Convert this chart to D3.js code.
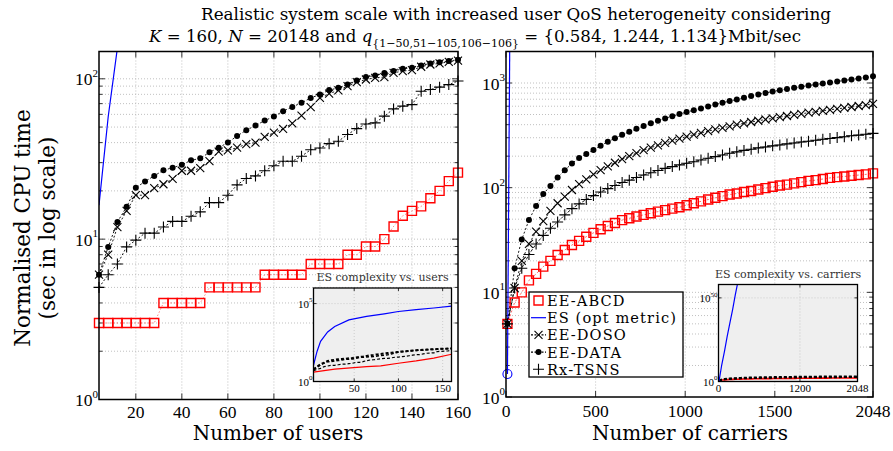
<!DOCTYPE html>
<html>
<head>
<meta charset="utf-8">
<script src="https://cdn.jsdelivr.net/npm/d3@7"></script>
<style>
  body { margin: 0; background: #fff; }
  svg { display: block; }
</style>
</head>
<body>
<div id="chart"></div>
<script>
// ---- data: left panel (number of users) ----
const users = [4, 8, 12, 16, 20, 24, 28, 32, 36, 40, 44, 48, 52, 56, 60, 64, 68, 72, 76, 80,
  84, 88, 92, 96, 100, 104, 108, 112, 116, 120, 124, 128, 132, 136, 140, 144, 148, 152, 156, 160];
const abcdUsers = [3, 3, 3, 3, 3, 3, 3, 4, 4, 4, 4, 4, 5, 5, 5, 5, 5, 5, 6, 6,
  6, 6, 6, 7, 7, 7, 7, 8, 8, 9, 9, 10, 12, 14, 15, 16, 18, 20, 23, 26];
const dosoUsers = [6.0, 8.0, 11.9, 15.0, 18.8, 18.8, 20.8, 22.0, 23.8, 26.7, 26.7, 27.7, 30.7, 35.1, 35.8, 37.2, 39.1, 40.0, 43.5, 46.1,
  48.7, 52.8, 59.0, 66.5, 76.0, 80.9, 84.6, 90.0, 95.4, 99.0, 101.5, 102.5, 109, 111.7, 113.3, 118.9, 122.8, 124.7, 127.7, 130];
const dataUsers = [6.0, 8.95, 12.8, 15.9, 20.9, 22.9, 24.8, 26.9, 27.9, 29.1, 31.0, 31.9, 34.8, 37.2, 40.0, 44.0, 47.8, 51.1, 54.9, 58.1,
  62.8, 66.8, 70.8, 76.0, 79.8, 85.0, 87.9, 92.0, 97.5, 102.5, 105, 108.6, 111.7, 115.5, 117, 121, 124.7, 127, 129, 131.5];
const tsnsUsers = [5.0, 6.0, 7.0, 8.95, 9.86, 10.9, 10.9, 11.9, 12.9, 12.9, 13.9, 14.8, 16.9, 16.9, 18.8, 21.8, 23.9, 24.8, 26.7, 28.7,
  30.6, 30.6, 32.9, 36.1, 37.0, 39.4, 40.8, 44.9, 48.9, 52.3, 53.1, 58.5, 64.9, 67.5, 69.0, 83.7, 85.8, 88.7, 92.0, 96.8];
const esUsers = [4, 8, 12, 16];
const esUsersVal = [16.3, 58, 156, 420];

// inset: ES complexity vs. users
const esCplxUsers = [4, 8, 12, 20, 28, 44, 64, 84, 100, 120, 140, 160];
const esCplxUsersVal = [11, 85, 380, 1500, 3400, 9000, 15000, 22000, 31000, 41000, 52000, 68000];
const abcdCplxUsers = [4, 28, 64, 80, 100, 120, 140, 160];
const abcdCplxUsersVal = [4, 6.2, 9, 10, 14.8, 21, 32, 56];

// ---- data: right panel (number of carriers) ----
const carriers = [8, 48, 88, 128, 168, 208, 248, 288, 328, 368, 408, 448, 488, 528, 568, 608, 648, 688, 728, 768,
  808, 848, 888, 928, 968, 1008, 1048, 1088, 1128, 1168, 1208, 1248, 1288, 1328, 1368, 1408, 1448, 1488, 1528, 1568,
  1608, 1648, 1688, 1728, 1768, 1808, 1848, 1888, 1928, 1968, 2008, 2048];
const abcdCarriers = [5, 8, 10, 13, 15, 17.6, 20, 22.7, 25.4, 28.3, 31, 34, 37, 40, 43, 46, 49, 51, 53, 55,
  57, 59, 61, 63, 65, 68, 71, 74, 77, 80, 83, 86, 88, 91, 93, 96, 99, 102, 105, 107,
  110, 113, 116, 118, 121, 124, 126, 128, 130, 132, 134, 137];
const dosoCarriers = [5, 11, 20, 29, 38, 48, 60, 71, 82, 95, 108, 120, 134, 147, 160, 173, 187, 200, 214, 228,
  241, 254, 268, 281, 294, 308, 321, 334, 347, 360, 373, 386, 400, 412, 424, 436, 448, 460, 472, 484,
  496, 508, 520, 531, 543, 555, 566, 578, 590, 603, 616, 632];
const dataCarriers = [5, 17, 32, 49, 67, 87, 104, 125, 147, 170, 192, 210, 229, 252, 275, 297, 320, 342, 365, 388,
  412, 436, 459, 482, 505, 527, 550, 572, 597, 622, 647, 672, 697, 722, 750, 778, 803, 828, 853, 877,
  900, 922, 945, 968, 990, 1012, 1035, 1058, 1082, 1105, 1130, 1160];
const tsnsCarriers = [5, 11, 17, 23, 29, 35, 41, 47, 55, 63, 70, 77, 84, 91, 98, 105, 112, 118, 125, 132,
  139, 146, 153, 159, 165, 171, 177, 184, 191, 198, 205, 213, 220, 227, 233, 240, 245, 251, 256, 262,
  267, 273, 278, 284, 290, 295, 301, 307, 313, 318, 324, 330];
const esCarriers = [8, 48];
const esCarriersVal = [1.66, 1e10];

// inset: ES complexity vs. carriers
const esCplxCarriers = [8, 48, 88, 128, 168, 208, 248, 288, 328];
const esCplxCarriersVal = [1.66, 1e10, 1e18, 1e27, 1e35, 1e43, 1e52, 1e60, 1e69];

const usersTicks = [20, 40, 60, 80, 100, 120, 140, 160];
const carriersTicks = [0, 500, 1000, 1500, 2048];
const legendNames = ["EE-ABCD", "ES (opt metric)", "EE-DOSO", "EE-DATA", "Rx-TSNS"];

const numFont = "Liberation Serif";
const txtFont = "DejaVu Serif";

const svg = d3.select("#chart").append("svg").attr("width", 893).attr("height", 451);

// scales
const xL = d3.scaleLinear().domain([4, 160]).range([99, 458]);
const yL = d3.scaleLog().domain([1, 148]).range([399.5, 51.5]);
const xR = d3.scaleLinear().domain([0, 2048]).range([506, 873]);
const yR = d3.scaleLog().domain([1, 2000]).range([397, 51.5]);

const isMajor = (v) => Math.abs(Math.log10(v) - Math.round(Math.log10(v))) < 1e-9;

function sup10(g, x, y, exp, size, supSize, font) {
  const t = g.append("text").attr("x", x).attr("y", y)
    .attr("text-anchor", "end").attr("font-family", font || numFont).attr("font-size", size);
  t.append("tspan").text("10");
  t.append("tspan").attr("dy", -size * 0.48).attr("font-size", supSize).text(exp);
}

//grid, ticks and frame of a panel
function drawFrame(g, x, y, xTicks, yTicks, opt) {
  const [x0, x1] = x.range();
  const [y1, y0] = y.range();
  g.append("g").selectAll("line").data(yTicks.filter((v) => y(v) > y0 + 1 && y(v) < y1 - 1)).join("line")
    .attr("x1", x0).attr("x2", x1).attr("y1", (d) => y(d)).attr("y2", (d) => y(d))
    .attr("stroke", opt.grid).attr("stroke-width", 0.8).attr("stroke-dasharray", "1,2");
  g.append("g").selectAll("line").data(xTicks.filter((v) => x(v) > x0 + 1 && x(v) < x1 - 1)).join("line")
    .attr("x1", (d) => x(d)).attr("x2", (d) => x(d)).attr("y1", y0).attr("y2", y1)
    .attr("stroke", opt.grid).attr("stroke-width", 0.8).attr("stroke-dasharray", "1,2");
  // inside tick marks
  const tk = g.append("g").attr("stroke", "#000").attr("stroke-width", 0.8);
  yTicks.forEach((v) => {
    const len = isMajor(v) ? opt.major : opt.minor;
    tk.append("line").attr("x1", x0).attr("x2", x0 + len).attr("y1", y(v)).attr("y2", y(v));
    tk.append("line").attr("x1", x1).attr("x2", x1 - len).attr("y1", y(v)).attr("y2", y(v));
  });
  xTicks.forEach((v) => {
    tk.append("line").attr("x1", x(v)).attr("x2", x(v)).attr("y1", y1).attr("y2", y1 - opt.major);
    tk.append("line").attr("x1", x(v)).attr("x2", x(v)).attr("y1", y0).attr("y2", y0 + opt.major);
  });
}

function box(g, x, y, w) {
  const [x0, x1] = x.range();
  const [y1, y0] = y.range();
  g.append("rect").attr("x", x0).attr("y", y0).attr("width", x1 - x0).attr("height", y1 - y0)
    .attr("fill", "none").attr("stroke", "#000").attr("stroke-width", w);
}

//markers
function markers(g, xs, ys, x, y, type, color) {
  const pts = xs.map((d, i) => [x(d), y(ys[i])]);
  if (type === "dot") {
    g.append("g").selectAll("circle").data(pts).join("circle")
      .attr("cx", (d) => d[0]).attr("cy", (d) => d[1]).attr("r", 3).attr("fill", color);
    return;
  }
  const shape = {
    square: (p) => `M${p[0] - 4.5},${p[1] - 4.5}h9v9h-9z`,
    x: (p) => `M${p[0] - 4},${p[1] - 4}L${p[0] + 4},${p[1] + 4}M${p[0] - 4},${p[1] + 4}L${p[0] + 4},${p[1] - 4}`,
    plus: (p) => `M${p[0] - 5.5},${p[1]}H${p[0] + 5.5}M${p[0]},${p[1] - 5.5}V${p[1] + 5.5}`,
    circle: (p) => `M${p[0] + 4.5},${p[1]}A4.5,4.5 0 1,1 ${p[0] - 4.5},${p[1]}A4.5,4.5 0 1,1 ${p[0] + 4.5},${p[1]}`,
  }[type];
  g.append("g").selectAll("path").data(pts).join("path")
    .attr("d", shape).attr("fill", "none").attr("stroke", color)
    .attr("stroke-width", type === "square" ? 1.4 : 1.1);
}

function series(g, xs, ys, x, y, style) {
  const line = d3.line().x((d) => x(d[0])).y((d) => y(d[1]));
  g.append("path").datum(xs.map((d, i) => [d, ys[i]]))
    .attr("d", line).attr("fill", "none")
    .attr("stroke", style.color).attr("stroke-width", style.width || 1)
    .attr("stroke-dasharray", style.dash || null)
    .attr("stroke-opacity", style.opacity || 1)
    .attr("clip-path", style.clip || null);
}

const defs = svg.append("defs");
function clip(id, x, y) {
  const [x0, x1] = x.range();
  const [y1, y0] = y.range();
  defs.append("clipPath").attr("id", id).append("rect")
    .attr("x", x0).attr("y", y0).attr("width", x1 - x0).attr("height", y1 - y0);
  return `url(#${id})`;
}

// ================= left panel =================
const gl = svg.append("g");
drawFrame(gl, xL, yL, usersTicks, yL.ticks(), { grid: "#b0b0b0", major: 6, minor: 3.5 });
const clipL = clip("clipL", xL, yL);
series(gl, users, abcdUsers, xL, yL, { color: "#f00", dash: "1.5,2", opacity: 0.5 });
series(gl, users, tsnsUsers, xL, yL, { color: "#000", dash: "2,2", width: 0.9 });
series(gl, users, dosoUsers, xL, yL, { color: "#000", dash: "2,2", width: 0.9 });
series(gl, users, dataUsers, xL, yL, { color: "#000", dash: "2,2", width: 0.9 });
series(gl, esUsers, esUsersVal, xL, yL, { color: "#00f", width: 1.2, clip: clipL });
markers(gl, users, abcdUsers, xL, yL, "square", "#f00");
markers(gl, users, tsnsUsers, xL, yL, "plus", "#000");
markers(gl, users, dosoUsers, xL, yL, "x", "#000");
markers(gl, users, dataUsers, xL, yL, "dot", "#000");
box(gl, xL, yL, 1.5);

usersTicks.forEach((v) => {
  gl.append("text").attr("x", xL(v)).attr("y", 418).attr("text-anchor", "middle")
    .attr("font-family", numFont).attr("font-size", 17.5).text(v);
});
[1, 10, 100].forEach((v) => sup10(gl, 98, yL(v) + 6.5, Math.log10(v), 17.5, 11));

// ================= right panel =================
const gr = svg.append("g");
drawFrame(gr, xR, yR, carriersTicks, yR.ticks(), { grid: "#b0b0b0", major: 6, minor: 3.5 });
const clipR = clip("clipR", xR, yR);
series(gr, carriers, abcdCarriers, xR, yR, { color: "#f00", dash: "2,2", opacity: 0.6 });
series(gr, carriers, tsnsCarriers, xR, yR, { color: "#000", dash: "3,1.5", width: 0.9 });
series(gr, carriers, dosoCarriers, xR, yR, { color: "#000", dash: "2,2", width: 0.9 });
series(gr, carriers, dataCarriers, xR, yR, { color: "#000", dash: "2,2", width: 0.9 });
series(gr, esCarriers, esCarriersVal, xR, yR, { color: "#00f", width: 1.2, clip: clipR });
markers(gr, carriers, abcdCarriers, xR, yR, "square", "#f00");
markers(gr, carriers, tsnsCarriers, xR, yR, "plus", "#000");
markers(gr, carriers, dosoCarriers, xR, yR, "x", "#000");
markers(gr, carriers, dataCarriers, xR, yR, "dot", "#000");
markers(gr, esCarriers.slice(0, 1), esCarriersVal, xR, yR, "circle", "#00f");
box(gr, xR, yR, 1.5);

carriersTicks.forEach((v) => {
  gr.append("text").attr("x", xR(v)).attr("y", 417).attr("text-anchor", "middle")
    .attr("font-family", numFont).attr("font-size", 17.5).text(v);
});
[1, 10, 100, 1000].forEach((v) => sup10(gr, 505, yR(v) + 6.5, Math.log10(v), 17.5, 11));

// ================= insets =================
function inset(cfg) {
  const g = svg.append("g");
  const [x0, x1] = cfg.x.range();
  const [y1, y0] = cfg.y.range();
  g.append("rect").attr("x", x0).attr("y", y0).attr("width", x1 - x0).attr("height", y1 - y0).attr("fill", "#efefef");
  drawFrame(g, cfg.x, cfg.y, cfg.xTicks, cfg.yTicks, { grid: "#c4c4c4", major: 3, minor: 3 });
  const cp = clip(cfg.id, cfg.x, cfg.y);
  cfg.lines.forEach((l) => series(g, l.xs, l.ys, cfg.x, cfg.y, Object.assign({ clip: cp }, l.style)));
  box(g, cfg.x, cfg.y, 1.3);
  cfg.xTicks.forEach((v) => {
    g.append("text").attr("x", cfg.x(v)).attr("y", y1 + 10.5).attr("text-anchor", "middle")
      .attr("font-family", numFont).attr("font-size", 11).text(v);
  });
  cfg.yTicks.forEach((v) => sup10(g, x0 - 1, cfg.y(v) + 4, Math.round(Math.log10(v)), 11, 7));
  g.append("text").attr("x", (x0 + x1) / 2).attr("y", y0 - 7).attr("text-anchor", "middle")
    .attr("font-family", txtFont).attr("font-size", 11).attr("fill", "#333").text(cfg.title);
}

inset({
  id: "clipIL",
  x: d3.scaleLinear().domain([4, 160]).range([313.5, 451.5]),
  y: d3.scaleLog().domain([1, 1e6]).range([381.5, 288]),
  xTicks: [50, 100, 150],
  yTicks: [1, 1e5],
  title: "ES complexity vs. users",
  lines: [
    { xs: users, ys: tsnsUsers, style: { color: "#000", dash: "3,2", width: 1.2 } },
    { xs: users, ys: dosoUsers, style: { color: "#000", dash: "3,2", width: 1.5 } },
    { xs: users, ys: dataUsers, style: { color: "#000", dash: "3,2", width: 2 } },
    { xs: abcdCplxUsers, ys: abcdCplxUsersVal, style: { color: "#f00", width: 1.2 } },
    { xs: esCplxUsers, ys: esCplxUsersVal, style: { color: "#00f", width: 1.2 } },
  ],
});

inset({
  id: "clipIR",
  x: d3.scaleLinear().domain([0, 2048]).range([718.5, 857.5]),
  y: d3.scaleLog().domain([1, 1e58]).range([381.5, 284.5]),
  xTicks: [0, 1200, 2048],
  yTicks: [1, 1e50],
  title: "ES complexity vs. carriers",
  lines: [
    { xs: carriers, ys: abcdCarriers, style: { color: "#f00", width: 1.6 } },
    { xs: carriers, ys: tsnsCarriers, style: { color: "#000", dash: "3,2", width: 1.5 } },
    { xs: carriers, ys: dosoCarriers, style: { color: "#000", dash: "3,2", width: 1.5 } },
    { xs: carriers, ys: dataCarriers, style: { color: "#000", dash: "3,2", width: 2 } },
    { xs: esCplxCarriers, ys: esCplxCarriersVal, style: { color: "#00f", width: 1.2 } },
  ],
});

// ================= legend =================
const lg = svg.append("g");
lg.append("rect").attr("x", 529).attr("y", 292).attr("width", 154).attr("height", 85)
  .attr("fill", "#fff").attr("stroke", "#000").attr("stroke-width", 1.3);
const legendStyle = [
  { mk: "square", color: "#f00", dash: null, line: false },
  { mk: null, color: "#00f", dash: null, line: true },
  { mk: "x", color: "#000", dash: "2,1.5", line: true },
  { mk: "dot", color: "#000", dash: "2,1.5", line: true },
  { mk: "plus", color: "#000", dash: null, line: false },
];
legendNames.forEach((name, i) => {
  const yy = 300.5 + i * 17.2;
  const st = legendStyle[i];
  if (st.line) {
    lg.append("line").attr("x1", 531).attr("x2", 546).attr("y1", yy).attr("y2", yy)
      .attr("stroke", st.color).attr("stroke-width", 1.2).attr("stroke-dasharray", st.dash);
  }
  if (st.mk) markers(lg, [0], [1], () => 538.5, () => yy, st.mk, st.color);
  lg.append("text").attr("x", 547).attr("y", yy + 5.5).attr("font-family", txtFont)
    .attr("font-size", 14.6).attr("letter-spacing", 1.1).text(name);
});

// ================= titles and axis labels =================
svg.append("text").attr("x", 516).attr("y", 20).attr("text-anchor", "middle")
  .attr("font-family", txtFont).attr("font-size", 16.8)
  .text("Realistic system scale with increased user QoS heterogeneity considering");
const t2 = svg.append("text").attr("x", 475).attr("y", 42).attr("text-anchor", "middle")
  .attr("font-family", txtFont).attr("font-size", 16.6);
t2.append("tspan").attr("font-style", "italic").text("K");
t2.append("tspan").text(" = 160, ");
t2.append("tspan").attr("font-style", "italic").text("N");
t2.append("tspan").text(" = 20148 and ");
t2.append("tspan").attr("font-style", "italic").text("q");
t2.append("tspan").attr("dy", 5).attr("font-size", 11).text("{1\u221250,51\u2212105,106\u2212106}");
t2.append("tspan").attr("dy", -5).text(" = {0.584, 1.244, 1.134}Mbit/sec");

svg.append("text").attr("x", 278).attr("y", 440).attr("text-anchor", "middle")
  .attr("font-family", txtFont).attr("font-size", 20).text("Number of users");
svg.append("text").attr("x", 690).attr("y", 440).attr("text-anchor", "middle")
  .attr("font-family", txtFont).attr("font-size", 20).text("Number of carriers");
svg.append("text").attr("transform", "translate(30,228) rotate(-90)").attr("text-anchor", "middle")
  .attr("font-family", txtFont).attr("font-size", 21.5).text("Normalised CPU time");
svg.append("text").attr("transform", "translate(55,228) rotate(-90)").attr("text-anchor", "middle")
  .attr("font-family", txtFont).attr("font-size", 21.5).text("(sec in log scale)");
</script>
</body>
</html>
